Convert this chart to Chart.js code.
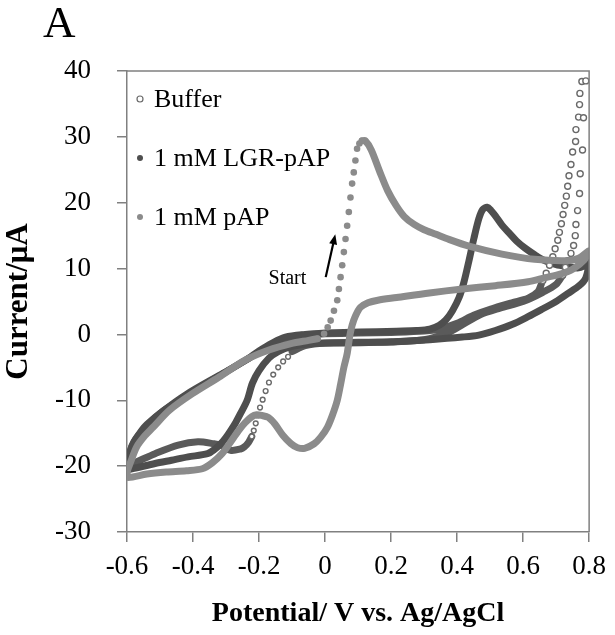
<!DOCTYPE html>
<html>
<head>
<meta charset="utf-8">
<script src="https://cdn.jsdelivr.net/npm/chart.js@4.4.1/dist/chart.umd.min.js"></script>
<style>
html, body { margin: 0; padding: 0; background: #ffffff; }
#chart_box { width: 615px; height: 635px; }
</style>
</head>
<body>
<div id="chart_box"><canvas id="cv_chart"></canvas></div>
<script>
// ---- data (potential in V, current in uA) ----
const x_tick_values = [-0.6, -0.4, -0.2, 0, 0.2, 0.4, 0.6, 0.8];
const x_tick_labels = ["-0.6", "-0.4", "-0.2", "0", "0.2", "0.4", "0.6", "0.8"];
const y_tick_values = [-30, -20, -10, 0, 10, 20, 30, 40];
const y_tick_labels = ["-30", "-20", "-10", "0", "10", "20", "30", "40"];

const legend_labels = ["Buffer", "1 mM LGR-pAP", "1 mM pAP"];

// 1 mM pAP, first sweep from the start potential (separate dots)
const pap_start_potential = [-0.023, -0.003, 0.008, 0.017, 0.027, 0.037, 0.042, 0.047, 0.052, 0.057, 0.062, 0.067, 0.072, 0.077, 0.082, 0.087, 0.092, 0.097, 0.104, 0.112];
const pap_start_current = [-0.65, 0.1, 1.1, 2.1, 3.6, 5.2, 6.9, 8.7, 10.5, 12.5, 14.5, 16.5, 18.6, 20.8, 22.9, 24.6, 26.4, 28.2, 29.0, 29.4];

// 1 mM pAP, rest of the loop
const pap_potential = [0.112, 0.122, 0.14, 0.165, 0.19, 0.215, 0.24, 0.27, 0.3, 0.336, 0.366, 0.436, 0.536, 0.635, 0.735, 0.77, 0.8,
    0.785, 0.75, 0.715, 0.665, 0.615, 0.516, 0.416, 0.316, 0.217, 0.16, 0.13, 0.107, 0.092, 0.082, 0.075, 0.067, 0.057, 0.047, 0.037, 0.022, 0.007, -0.013, -0.033, -0.062, -0.083, -0.103, -0.128, -0.152, -0.172, -0.192, -0.207, -0.222, -0.242, -0.262, -0.287, -0.312, -0.342, -0.372, -0.42, -0.481, -0.54, -0.6,
    -0.598, -0.59, -0.571, -0.546, -0.521, -0.471, -0.402, -0.322, -0.242, -0.172, -0.103, -0.05, -0.023];
const pap_current = [29.4, 29.4, 28.0, 24.8, 21.8, 19.6, 17.9, 16.7, 15.9, 15.2, 14.6, 13.4, 12.2, 11.4, 11.2, 11.6, 12.7,
    11.3, 9.9, 9.2, 8.6, 8.0, 7.4, 6.9, 6.3, 5.6, 5.2, 4.8, 4.1, 2.8, 1.4, -0.2, -2.9, -5.0, -7.6, -10.0, -12.3, -14.1, -15.6, -16.6, -17.3, -17.2, -16.6, -15.3, -13.6, -12.6, -12.3, -12.2, -12.5, -13.4, -14.6, -16.4, -18.1, -19.5, -20.4, -20.7, -20.9, -21.2, -21.7,
    -20.6, -19.5, -17.1, -15.4, -14.1, -11.5, -9.0, -6.5, -3.9, -2.4, -1.4, -0.9, -0.65];

// 1 mM LGR-pAP
const lgr_potential = [0, 0.057, 0.157, 0.217, 0.277, 0.317, 0.346, 0.366, 0.386, 0.406, 0.421, 0.436, 0.451, 0.466, 0.478, 0.491, 0.503, 0.516, 0.536, 0.556, 0.58, 0.606, 0.635, 0.665, 0.7, 0.735, 0.765, 0.785, 0.8,
    0.79, 0.77, 0.735, 0.7, 0.66, 0.615, 0.566, 0.516, 0.466, 0.416, 0.317, 0.217, 0.157, 0.057, -0.043, -0.1, -0.142, -0.17, -0.2, -0.22, -0.236, -0.256, -0.271, -0.286, -0.301, -0.316, -0.336, -0.356, -0.415, -0.465, -0.515, -0.585, -0.6,
    -0.598, -0.592, -0.58, -0.56, -0.54, -0.49, -0.42, -0.32, -0.24, -0.2, -0.16, -0.12, -0.06, 0];
const lgr_current = [0.2, 0.3, 0.4, 0.5, 0.6, 0.8, 1.4, 2.2, 3.6, 5.6, 8.0, 11.2, 14.6, 17.6, 19.0, 19.3, 18.8, 18.0, 16.6, 15.5, 14.2, 13.1, 12.1, 11.2, 10.6, 10.3, 10.1, 10.4, 11.0,
    8.6, 7.4, 6.2, 5.0, 3.9, 2.7, 1.5, 0.6, -0.1, -0.4, -0.8, -1.1, -1.2, -1.3, -1.4, -1.8, -2.6, -3.6, -5.5, -7.4, -10.0, -12.0, -13.4, -14.6, -15.7, -16.6, -17.5, -18.1, -18.6, -19.1, -19.6, -20.4, -20.5,
    -19.9, -18.0, -16.4, -14.9, -13.7, -11.6, -9.1, -6.2, -3.9, -2.5, -1.3, -0.4, 0.0, 0.2];

// Buffer, where the circles run together into a band (null = gap)
const buffer_potential = [0, 0.1, 0.2, 0.3, 0.35, 0.4, 0.45, 0.5, 0.566, 0.615, 0.645, 0.655, null,
    0.72, 0.7, 0.66, 0.6, 0.53, 0.47, 0.42, 0.37, 0.3, 0.2, 0.1, 0, -0.06, -0.1, null,
    -0.222, -0.232, -0.245, -0.256, -0.286, -0.316, -0.336, -0.385, -0.445, -0.515, -0.56, -0.595, -0.6,
    -0.598, -0.585, -0.56, -0.5, -0.4, -0.3, -0.2, -0.14, -0.08, 0];
const buffer_current = [0.1, 0.2, 0.3, 0.5, 0.9, 1.7, 2.9, 3.8, 4.8, 5.5, 6.5, 7.6, null,
    9.0, 7.6, 6.4, 5.0, 4.0, 3.0, 1.6, 0.2, -0.8, -1.1, -1.2, -1.3, -1.7, -2.6, null,
    -15.5, -16.4, -17.1, -17.4, -17.6, -16.8, -16.6, -16.3, -16.8, -18.1, -19.1, -19.9, -20.1,
    -19.6, -17.0, -15.0, -12.0, -8.7, -5.7, -2.7, -1.0, -0.2, 0.1];

// Buffer, circles that stay apart
const buffer_circle_potential = [0.660, 0.670, 0.680, 0.690, 0.697, 0.705, 0.710, 0.716, 0.721, 0.726, 0.731, 0.735, 0.739, 0.745, 0.750, 0.759, 0.760, 0.768, 0.771, 0.772, 0.778,
    0.790, 0.783, 0.780, 0.773, 0.771, 0.765, 0.760, 0.758, 0.753, 0.745, 0.735, 0.728, 0.720,
    -0.112, -0.127, -0.142, -0.157, -0.17, -0.18, -0.189, -0.197, -0.204, -0.21, -0.216, -0.222];
const buffer_circle_current = [8.2, 9.3, 10.5, 11.8, 13.0, 14.3, 15.5, 16.8, 18.2, 19.6, 21.0, 22.5, 24.1, 25.8, 27.7, 29.3, 31.1, 33.0, 34.9, 36.6, 38.4,
    38.5, 32.9, 28.0, 24.4, 21.4, 18.8, 16.7, 15.0, 13.5, 12.3, 11.2, 10.2, 9.0,
    -3.4, -4.1, -5.0, -6.1, -7.3, -8.6, -9.9, -11.1, -12.3, -13.5, -14.6, -15.5];

// "Start" note and arrow, in data units
const start_text = "Start";
const start_text_at = [-0.114, 8.4];
const start_arrow_tail = [0.002, 8.7];
const start_arrow_head = [0.031, 15.2];

const panel_letter = "A";

const dark_color = "#4e4e4e";
const buffer_color = "#5a5a5a";
const light_color = "#8b8b8b";
const axis_color = "#808080";

function to_points(xs, ys)
{
    return xs.map(function (x, i) { return { x: x, y: ys[i] }; });
}

const band_style =
{
    showLine: true,
    borderWidth: 7,
    tension: 0.3,
    pointRadius: 0,
    pointHoverRadius: 0,
    borderCapStyle: "round",
    borderJoinStyle: "round",
    spanGaps: false
};

const data =
{
    datasets:
        [{
            label: "",
            data: to_points(pap_start_potential, pap_start_current),
            showLine: false,
            pointRadius: 3.3,
            pointBackgroundColor: light_color,
            pointBorderWidth: 0,
            order: 0
        },
        Object.assign({}, band_style,
        {
            label: legend_labels[2],
            data: to_points(pap_potential, pap_current),
            borderColor: light_color,
            backgroundColor: light_color,
            legend_marker: "dot",
            order: 1
        }),
        {
            label: legend_labels[0],
            data: to_points(buffer_circle_potential, buffer_circle_current),
            showLine: false,
            pointRadius: function (c) { return c.raw && c.raw.x < 0 ? 2.4 : 3; },
            pointBackgroundColor: "#ffffff",
            pointBorderColor: "#6a6a6a",
            pointBorderWidth: 1.4,
            borderColor: "#6a6a6a",
            backgroundColor: "#ffffff",
            legend_marker: "ring",
            order: 2
        },
        Object.assign({}, band_style,
        {
            label: legend_labels[1],
            data: to_points(lgr_potential, lgr_current),
            borderColor: dark_color,
            backgroundColor: dark_color,
            legend_marker: "dot",
            order: 3
        }),
        Object.assign({}, band_style,
        {
            label: "",
            data: to_points(buffer_potential, buffer_current),
            borderColor: buffer_color,
            order: 4
        })]
};

// draws the closed plot frame, panel letter, legend and the start note
const frame_plugin =
{
    id: "frame_plugin",
    afterDraw(chart)
    {
        const ctx = chart.ctx;
        const area = chart.chartArea;
        const x_scale = chart.scales.x;
        const y_scale = chart.scales.y;
        ctx.save();

        ctx.strokeStyle = axis_color;
        ctx.lineWidth = 1.5;
        ctx.beginPath();
        ctx.moveTo(area.left, area.top);
        ctx.lineTo(area.right, area.top);
        ctx.lineTo(area.right, area.bottom);
        ctx.stroke();

        ctx.fillStyle = "#000000";
        ctx.textAlign = "left";
        ctx.textBaseline = "alphabetic";
        ctx.font = '45px "Liberation Serif"';
        ctx.fillText(panel_letter, 43, 37);

        // legend, one row per named dataset
        ctx.font = '26px "Liberation Serif"';
        ctx.textBaseline = "middle";
        legend_labels.forEach(function (name, row)
        {
            const ds = chart.data.datasets.find(function (d) { return d.label === name; });
            const row_y = 99 + row * 59;
            ctx.beginPath();
            ctx.arc(area.left + 13, row_y, 3, 0, Math.PI * 2);
            if (ds.legend_marker === "ring")
            {
                ctx.fillStyle = "#ffffff";
                ctx.fill();
                ctx.strokeStyle = ds.pointBorderColor;
                ctx.lineWidth = 1.2;
                ctx.stroke();
            }
            else
            {
                ctx.fillStyle = ds.borderColor;
                ctx.fill();
            }
            ctx.fillStyle = "#000000";
            ctx.fillText(name, area.left + 27, row_y + 1);
        });

        // "Start" with its arrow
        ctx.font = '20px "Liberation Serif"';
        ctx.textAlign = "center";
        ctx.fillText(start_text, x_scale.getPixelForValue(start_text_at[0]), y_scale.getPixelForValue(start_text_at[1]));

        const tx = x_scale.getPixelForValue(start_arrow_tail[0]);
        const ty = y_scale.getPixelForValue(start_arrow_tail[1]);
        const hx = x_scale.getPixelForValue(start_arrow_head[0]);
        const hy = y_scale.getPixelForValue(start_arrow_head[1]);
        const ang = Math.atan2(hy - ty, hx - tx);
        ctx.strokeStyle = "#000000";
        ctx.lineWidth = 2.2;
        ctx.beginPath();
        ctx.moveTo(tx, ty);
        ctx.lineTo(hx - 6 * Math.cos(ang), hy - 6 * Math.sin(ang));
        ctx.stroke();
        ctx.fillStyle = "#000000";
        ctx.beginPath();
        ctx.moveTo(hx, hy);
        ctx.lineTo(hx - 10 * Math.cos(ang) + 4 * Math.sin(ang), hy - 10 * Math.sin(ang) - 4 * Math.cos(ang));
        ctx.lineTo(hx - 10 * Math.cos(ang) - 4 * Math.sin(ang), hy - 10 * Math.sin(ang) + 4 * Math.cos(ang));
        ctx.closePath();
        ctx.fill();

        ctx.restore();
    }
};

const tick_font = { family: "Liberation Serif", size: 27 };

const config =
{
    type: "scatter",
    data,
    options:
    {
        responsive: true,
        maintainAspectRatio: false,
        animation: false,
        devicePixelRatio: 1,
        layout:
        {
            padding: { top: 71, right: 20, left: 0, bottom: 0 }
        },
        scales:
        {
            x:
            {
                type: "linear",
                min: -0.6,
                max: 0.8,
                afterBuildTicks: function (scale)
                {
                    scale.ticks = x_tick_values.map(function (v) { return { value: v }; });
                },
                afterFit: function (scale)
                {
                    scale.height = 103;
                },
                ticks:
                {
                    autoSkip: false,
                    maxRotation: 0,
                    padding: 9,
                    color: "#000000",
                    font: tick_font,
                    callback: function (value, index) { return x_tick_labels[index]; }
                },
                grid:
                {
                    drawOnChartArea: false,
                    drawTicks: true,
                    tickLength: 10,
                    color: axis_color,
                    lineWidth: 1.5
                },
                border: { color: axis_color, width: 1.5 },
                title:
                {
                    display: true,
                    text: "Potential/ V vs. Ag/AgCl",
                    color: "#000000",
                    padding: { top: 0, bottom: 4 },
                    font: { family: "Liberation Serif", size: 28, weight: "bold" }
                }
            },
            y:
            {
                type: "linear",
                min: -30,
                max: 40,
                afterBuildTicks: function (scale)
                {
                    scale.ticks = y_tick_values.map(function (v) { return { value: v }; });
                },
                afterFit: function (scale)
                {
                    scale.width = 127;
                },
                ticks:
                {
                    autoSkip: false,
                    padding: 26,
                    color: "#000000",
                    font: tick_font,
                    callback: function (value, index) { return y_tick_labels[index]; }
                },
                grid:
                {
                    drawOnChartArea: false,
                    drawTicks: true,
                    tickLength: 10,
                    color: axis_color,
                    lineWidth: 1.5
                },
                border: { color: axis_color, width: 1.5 },
                title:
                {
                    display: true,
                    text: "Current/μA",
                    color: "#000000",
                    padding: { top: 0, bottom: 6 },
                    font: { family: "Liberation Serif", size: 31, weight: "bold" }
                }
            }
        },
        plugins:
        {
            legend: { display: false },
            tooltip: { enabled: false }
        }
    },
    plugins: [frame_plugin]
};

const my_chart = new Chart(document.querySelector("#cv_chart"), config);
</script>
</body>
</html>
